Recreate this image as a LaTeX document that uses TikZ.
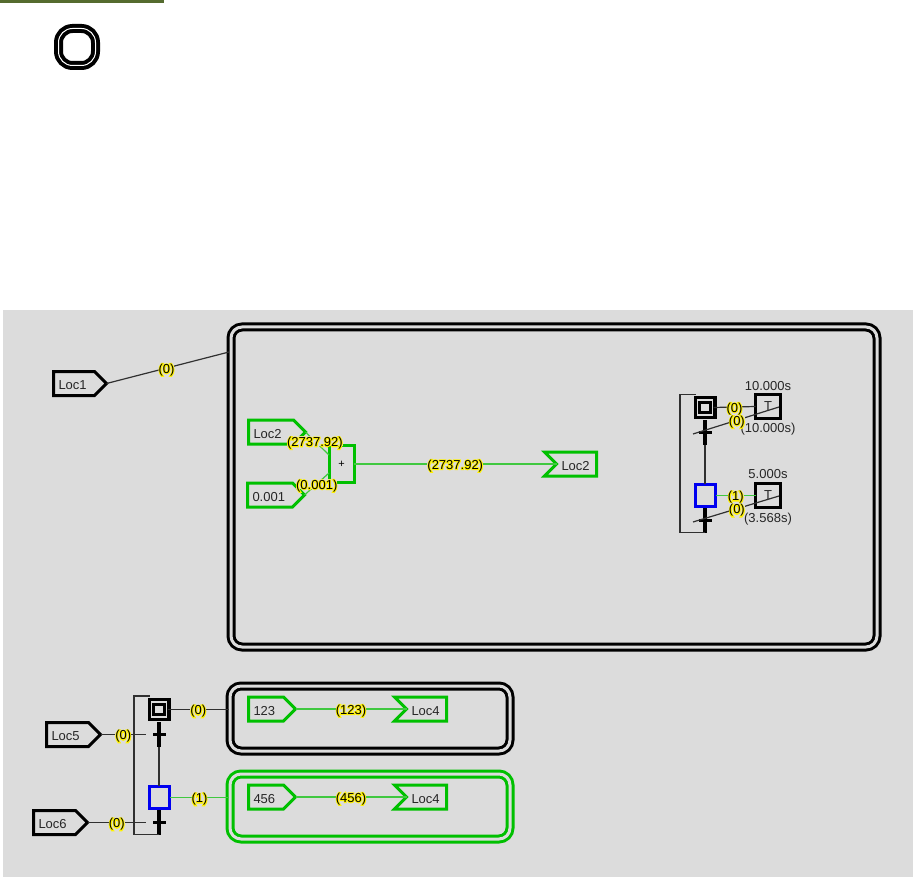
\documentclass[tikz,border=0pt]{standalone}
\usepackage{fontspec}
\usepackage{xcolor}
\setmainfont{Liberation Sans}
\newfontfamily\halofont[FakeBold=14]{Liberation Sans}
\usepackage{tikz}
\usetikzlibrary{shapes.symbols, positioning}
\definecolor{panel_gray}{HTML}{DCDCDC}
\definecolor{run_green}{HTML}{00C000}
\definecolor{wire_green}{HTML}{40C840}
\definecolor{wire_gray}{HTML}{303030}
\definecolor{step_blue}{HTML}{0000F0}
\definecolor{bar_olive}{HTML}{556B2F}
\newcommand{\valtext}[1]{\makebox[0pt][l]{\color{yellow}\halofont #1}#1}

\begin{document}
\begin{tikzpicture}[
    x=1pt, y=-1pt,
    font=\fontsize{13}{14}\selectfont,
    tag_in/.style={
        signal, signal to=east,
        draw=#1,
        line width=3pt,
        anchor=west,
        inner xsep=5pt, inner ysep=0pt,
        outer sep=0pt,
        minimum height=24pt,
        align=left,
        text height=12.4pt, text depth=0pt,
        text=black!85
    },
    tag_out/.style={
        signal, signal to=nowhere, signal from=west,
        draw=#1,
        line width=3pt,
        anchor=east,
        inner xsep=5pt, inner ysep=0pt,
        outer sep=0pt,
        minimum height=24pt,
        align=left,
        text height=12.4pt, text depth=0pt,
        text=black!85,
        text width=30pt
    },
    frame_node/.style={
        rectangle,
        draw=#1,
        double=panel_gray,
        double distance=3pt,
        line width=3pt,
        rounded corners=11pt,
        outer sep=0pt,
        inner sep=0pt
    },
    step_node/.style={
        rectangle,
        draw=black,
        double=panel_gray,
        double distance=1.3pt,
        line width=3.3pt,
        outer sep=1pt,
        minimum size=15.1pt,
        inner sep=0pt
    },
    active_node/.style={
        rectangle,
        draw=step_blue,
        line width=3pt,
        outer sep=1pt,
        minimum width=20pt,
        minimum height=22pt,
        inner sep=0pt
    },
    timer_node/.style={
        rectangle,
        draw=black,
        line width=3pt,
        outer sep=0pt,
        minimum width=25pt,
        minimum height=24pt,
        inner sep=0pt,
        text=black!85
    },
    trans_node/.style={
        rectangle,
        fill=black,
        minimum width=3.5pt,
        minimum height=25pt,
        inner sep=0pt
    },
    val_node/.style={
        fill=panel_gray,
        text=black,
        inner xsep=0pt,
        inner ysep=0pt,
        text height=10.5pt, text depth=0pt
    },
    plain_text/.style={
        inner sep=0pt,
        text=black!85
    },
    wire_main/.style={
        line width=1.2pt,
        color=#1
    }
]
    \useasboundingbox (0,0) rectangle (913,877);

    % Top strip and icon
    \node (panel) [fill=panel_gray, minimum width=910pt, minimum height=567pt, inner sep=0pt, outer sep=0pt] at (458,593.5) {};
    \node (strip) [fill=bar_olive, minimum width=164pt, minimum height=3pt, inner sep=0pt, outer sep=0pt] at (82,1.5) {};
    \node (icon) [frame_node=black, double=white, double distance=1pt, line width=4pt, rounded corners=14pt, minimum size=37pt] at (77,47) {};

    % Frames
    \node (frame_main) [frame_node=black, minimum width=646pt, minimum height=320pt] at (554,487) {};
    \node (frame_idle) [frame_node=black, minimum width=280pt, minimum height=65pt] at (370,718.5) {};
    \node (frame_run) [frame_node=run_green, minimum width=280pt, minimum height=65pt] at (370,806.5) {};
    \coordinate (main_in) at (229,352);
    \coordinate (idle_in) at (229,709.5);
    \coordinate (run_in) at (229,797.5);

    % Tags
    \node (tag_loc1) [tag_in=black, text width=31pt] at (53.5,383.5) {Loc1};
    \node (tag_loc5) [tag_in=black, text width=32pt] at (46.5,734.5) {Loc5};
    \node (tag_loc6) [tag_in=black, text width=32pt] at (33.5,822.5) {Loc6};
    \node (tag_loc2a) [tag_in=run_green, text width=35pt] at (248.5,432) {Loc2};
    \node (tag_const) [tag_in=run_green, text width=35pt] at (247.5,495) {0.001};
    \node (tag_123) [tag_in=run_green, text width=25pt] at (248.5,709) {123};
    \node (tag_456) [tag_in=run_green, text width=25pt] at (248.5,797) {456};
    \node (out_loc2) [tag_out=run_green] at (596.5,464) {Loc2};
    \node (out_idle) [tag_out=run_green] at (446.5,709) {Loc4};
    \node (out_run) [tag_out=run_green] at (446.5,797) {Loc4};

    % Adder
    \node (adder) [rectangle, draw=run_green, line width=3pt, outer sep=0pt, minimum width=25pt, minimum height=37pt, inner sep=0pt, font=\fontsize{11}{12}\selectfont] at (341.5,464) {+};
    \coordinate (adder_a) at (329,455);
    \coordinate (adder_b) at (329,473);

    % Steps
    \node (step_a) [step_node] at (705,407.5) {};
    \node (step_b) [active_node] at (705,495.5) {};
    \node (step_c) [step_node] at (159,709.5) {};
    \node (step_d) [active_node] at (159,797.5) {};

    % Transitions
    \foreach \nm/\x/\y in {tr_a/705/432, tr_b/705/520, tr_c/159/734, tr_d/159/822} {
        \node (\nm) [trans_node] at (\x,\y) {};
        \draw [line width=3pt] (\x-6,\y) -- (\x+7,\y);
    }

    % Timers
    \node (timer_a) [timer_node] at (768,406.5) {T};
    \node (timer_b) [timer_node] at (768,495.5) {T};
    \node (preset_a) [plain_text, above=4pt of timer_a] {10.000s};
    \node (preset_b) [plain_text, above=5pt of timer_b] {5.000s};
    \node (value_a) [plain_text, below=4pt of timer_a] {(10.000s)};
    \node (value_b) [plain_text, below=5pt of timer_b] {(3.568s)};

    % Links between steps
    \draw [wire_main=wire_gray] (tr_a.south) -- (step_b.north);
    \draw [wire_main=wire_gray] (tr_c.south) -- (step_d.north);
    \draw [wire_main=wire_gray] (tr_b.south) -| (680,394.5) -- (step_a.north west |- 0,394.5);
    \draw [wire_main=wire_gray] (tr_d.south) -| (134,696) -- (step_c.north west |- 0,696);

    % Green links
    \draw [wire_main=wire_green] (tag_loc2a.east) -- node[val_node, pos=0.4] {\valtext{(2737.92)}} (adder_a);
    \draw [wire_main=wire_green] (tag_const.east) -- node[val_node, pos=0.5] {\valtext{(0.001)}} (adder_b);
    \draw [wire_main=wire_green] (adder.east) -- node[val_node] {\valtext{(2737.92)}} (out_loc2.west);
    \draw [wire_main=wire_green] (tag_123.east) -- node[val_node] {\valtext{(123)}} (out_idle.west);
    \draw [wire_main=wire_green] (tag_456.east) -- node[val_node] {\valtext{(456)}} (out_run.west);
    \draw [wire_main=wire_green] (step_b.east) -- node[val_node, pos=0.5] {\valtext{(1)}} (timer_b.west);
    \draw [wire_main=wire_green] (step_d.east) -- node[val_node] {\valtext{(1)}} (run_in);

    % Black links
    \draw [wire_main=wire_gray] (tag_loc1.east) -- node[val_node, pos=0.49] {\valtext{(0)}} (main_in);
    \draw [wire_main=wire_gray] (step_a.east) -- node[val_node] {\valtext{(0)}} (timer_a.west);
    \draw [wire_main=wire_gray] (step_c.east) -- node[val_node] {\valtext{(0)}} (idle_in);
    \draw [wire_main=wire_gray] (tag_loc5.east) -- node[val_node] {\valtext{(0)}} (146,734.5);
    \draw [wire_main=wire_gray] (tag_loc6.east) -- node[val_node] {\valtext{(0)}} (146,822.5);
    \draw [wire_main=wire_gray] (693,434) -- node[val_node, pos=0.51] {\valtext{(0)}} (779,407);
    \draw [wire_main=wire_gray] (693,522) -- node[val_node, pos=0.51] {\valtext{(0)}} (779,496);
\end{tikzpicture}
\end{document}
